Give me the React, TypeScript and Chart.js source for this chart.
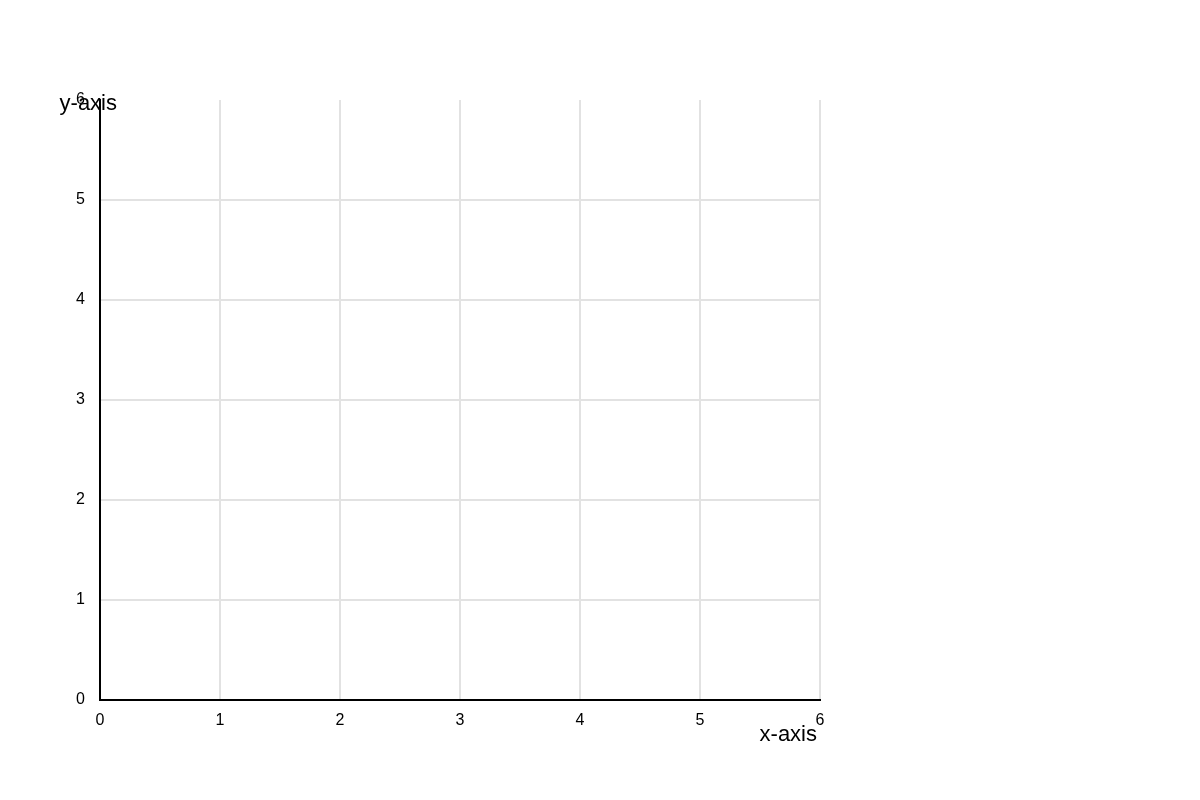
import { useEffect, useRef } from "react"
import { Chart, registerables } from "chart.js"

Chart.register(...registerables)

// Axis ranges and tick labels
const xTicks = [0, 1, 2, 3, 4, 5, 6]
const yTicks = [0, 1, 2, 3, 4, 5, 6]
const xTitle = "x-axis"
const yTitle = "y-axis"
// The chart holds no marks, only the empty grid
const points: { x: number; y: number }[] = []

const FONT = "'Liberation Sans', Arial, sans-serif"
const GRID = "#e2e2e2"

// Draws the two axis titles at the corners, overlapping the end ticks like the source
const axisTitles = {
  id: "axisTitles",
  afterDraw(chart: Chart) {
    const { ctx, chartArea } = chart
    ctx.save()
    ctx.font = `22px ${FONT}`
    ctx.fillStyle = "#000"
    ctx.textAlign = "right"
    ctx.textBaseline = "alphabetic"
    ctx.fillText(yTitle, chartArea.left + 17, chartArea.top + 10)
    ctx.fillText(xTitle, chartArea.right - 3, chartArea.bottom + 41)
    ctx.restore()
  },
}

export default function App() {
  const chartRef = useRef<HTMLCanvasElement>(null)
  const chartInstance = useRef<Chart | null>(null)

  useEffect(() => {
    if (!chartRef.current) return
    if (chartInstance.current) chartInstance.current.destroy()

    chartInstance.current = new Chart(chartRef.current, {
      type: "scatter",
      data: {
        datasets: [{ data: points, showLine: false }],
      },
      plugins: [axisTitles],
      options: {
        responsive: true,
        maintainAspectRatio: false,
        animation: false,
        layout: { padding: { left: 0, top: 100, right: 380, bottom: 0 } },
        plugins: {
          legend: { display: false },
          tooltip: { enabled: false },
        },
        scales: {
          x: {
            type: "linear",
            min: xTicks[0],
            max: xTicks[xTicks.length - 1],
            afterFit: (scale) => {
              scale.height = 100
            },
            afterBuildTicks: (scale) => {
              scale.ticks = xTicks.map((v) => ({ value: v }))
            },
            ticks: {
              font: { family: FONT, size: 16 },
              color: "#000",
              padding: 11,
              maxRotation: 0,
            },
            grid: {
              color: GRID,
              lineWidth: 2,
              drawTicks: false,
            },
            border: { color: "#000", width: 2 },
          },
          y: {
            type: "linear",
            min: yTicks[0],
            max: yTicks[yTicks.length - 1],
            afterFit: (scale) => {
              scale.width = 100
            },
            afterBuildTicks: (scale) => {
              scale.ticks = yTicks.map((v) => ({ value: v }))
            },
            ticks: {
              font: { family: FONT, size: 16 },
              color: "#000",
              padding: 15,
            },
            grid: {
              // no line along the top edge
              color: (c) => (c.tick && c.tick.value === yTicks[yTicks.length - 1] ? "transparent" : GRID),
              lineWidth: 2,
              drawTicks: false,
            },
            border: { color: "#000", width: 2 },
          },
        },
      },
    })

    return () => {
      if (chartInstance.current) {
        chartInstance.current.destroy()
        chartInstance.current = null
      }
    }
  }, [])

  return (
    <div style={{ position: "absolute", left: 0, top: 0, width: 1200, height: 800, background: "#fff" }}>
      <canvas ref={chartRef} aria-label="Empty axes chart"></canvas>
    </div>
  )
}
